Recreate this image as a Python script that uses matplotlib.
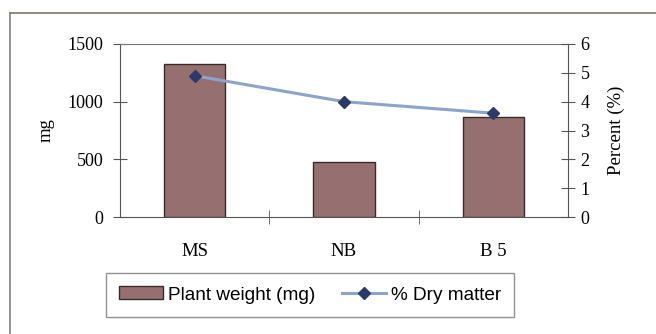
import matplotlib
matplotlib.use("Agg")
import matplotlib.pyplot as plt
from matplotlib.lines import Line2D
from matplotlib.patches import Patch

categories = ["MS", "NB", "B 5"]
plant_weight = [1325, 480, 865]
dry_matter = [4.9, 4.0, 3.6]

W, H = 656, 334
fig = plt.figure(figsize=(W / 100, H / 100), dpi=100)
fig.patch.set_facecolor("white")

serif = ["Liberation Serif", "DejaVu Serif"]
sans = ["Liberation Sans", "DejaVu Sans"]

# outer frame
fig.add_artist(Line2D([10 / W, 10 / W], [1 - 13 / H, 0], color="#8a8a8a", lw=1.3))
fig.add_artist(Line2D([10 / W, 1], [1 - 13 / H, 1 - 13 / H], color="#8a8070", lw=1.3))

ax = fig.add_axes([120 / W, 1 - 217 / H, 448 / W, 173 / H])
x = list(range(len(categories)))
bar_color = "#967070"
ax.bar(x, plant_weight, width=0.41, color=bar_color, edgecolor="#3a2a2a", linewidth=1.0, zorder=2)
ax.set_xlim(-0.5, 2.5)
ax.set_ylim(0, 1500)
ax.set_yticks([0, 500, 1000, 1500])
ax.set_xticks(x)
ax.set_xticklabels(categories, fontfamily=serif, fontsize=13.5)
ax.tick_params(axis="x", length=0, pad=19)
ax.set_xticks([0.5, 1.5], minor=True)
ax.tick_params(axis="x", which="minor", length=10, direction="inout", color="#555555")
ax.tick_params(axis="y", direction="inout", length=10, color="#555555", labelsize=13, pad=7)
for lab in ax.get_yticklabels():
    lab.set_fontfamily(serif)
ax.set_ylabel("mg", fontfamily=serif, fontsize=13.5, labelpad=9)
ax.spines["top"].set_linestyle((0, (2, 1)))
ax.spines["top"].set_color("#777777")
ax.spines["left"].set_color("#555555")
ax.spines["bottom"].set_color("#555555")
ax.spines["right"].set_visible(False)

ax2 = ax.twinx()
ax2.plot(x, dry_matter, color="#8aa4cc", lw=2.2, zorder=3,
         marker="D", markersize=6, markerfacecolor="#2c3a6a", markeredgecolor="#2c3a6a")
ax2.set_ylim(0, 6)
ax2.set_yticks(range(0, 7))
ax2.tick_params(axis="y", direction="inout", length=10, color="#555555", labelsize=13, pad=4)
for lab in ax2.get_yticklabels():
    lab.set_fontfamily(serif)
ax2.set_ylabel("Percent (%)", fontfamily=serif, fontsize=13.5, labelpad=13)
ax2.spines["right"].set_color("#555555")
for s in ["top", "left", "bottom"]:
    ax2.spines[s].set_visible(False)

handles = [
    Patch(facecolor=bar_color, edgecolor="#3a2a2a", linewidth=1.0),
    Line2D([0], [0], color="#8aa4cc", lw=2.2, marker="D", markersize=6,
           markerfacecolor="#2c3a6a", markeredgecolor="#2c3a6a"),
]
leg = fig.legend(handles, ["Plant weight (mg)", "% Dry matter"], loc="center",
                 bbox_to_anchor=(310 / W, 1 - 295 / H), ncol=2, frameon=True,
                 fancybox=False, edgecolor="#777777", prop={"family": sans, "size": 13.7},
                 handlelength=2.3, handleheight=0.65, handletextpad=0.27, columnspacing=1.4,
                 borderpad=0.7, borderaxespad=0)
leg.get_frame().set_linewidth(1.0)

fig.savefig("out.png", dpi=100, facecolor="white")
